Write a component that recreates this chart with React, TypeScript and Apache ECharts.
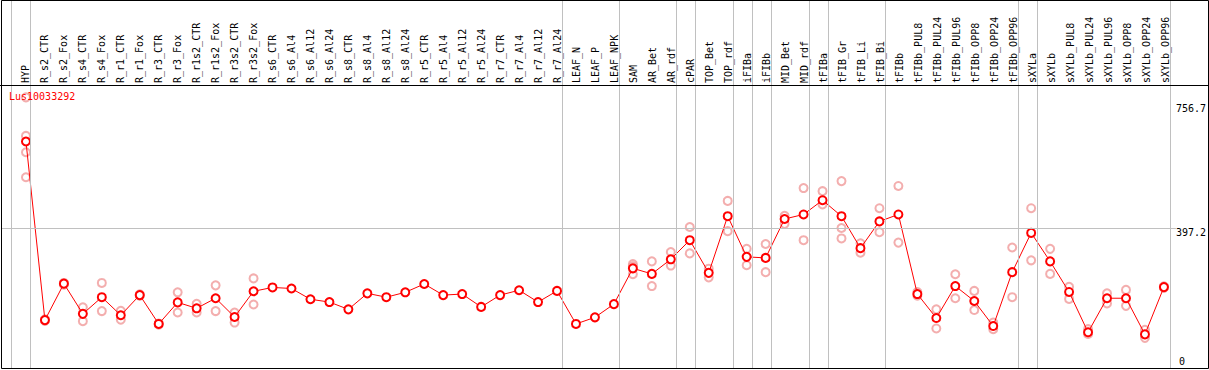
import React, { useEffect, useRef } from "react";
import * as echarts from "echarts";

const TITLE = "Lus10033292";

const categories = [
  "HYP", "R_s2_CTR", "R_s2_Fox", "R_s4_CTR", "R_s4_Fox", "R_r1_CTR", "R_r1_Fox",
  "R_r3_CTR", "R_r3_Fox", "R_r1s2_CTR", "R_r1s2_Fox", "R_r3s2_CTR", "R_r3s2_Fox",
  "R_s6_CTR", "R_s6_Al4", "R_s6_Al12", "R_s6_Al24", "R_s8_CTR", "R_s8_Al4",
  "R_s8_Al12", "R_s8_Al24", "R_r5_CTR", "R_r5_Al4", "R_r5_Al12", "R_r5_Al24",
  "R_r7_CTR", "R_r7_Al4", "R_r7_Al12", "R_r7_Al24", "LEAF_N", "LEAF_P", "LEAF_NPK",
  "SAM", "AR_Bet", "AR_rdf", "cPAR", "TOP_Bet", "TOP_rdf", "iFIBa", "iFIBb",
  "MID_Bet", "MID_rdf", "tFIBa", "tFIB_Gr", "tFIB_Li", "tFIB_Bi", "tFIBb",
  "tFIBb_PUL8", "tFIBb_PUL24", "tFIBb_PUL96", "tFIBb_OPP8", "tFIBb_OPP24", "tFIBb_OPP96",
  "sXYLa", "sXYLb", "sXYLb_PUL8", "sXYLb_PUL24", "sXYLb_PUL96", "sXYLb_OPP8",
  "sXYLb_OPP24", "sXYLb_OPP96",
];

const means = [
  646, 132, 237, 150, 198, 146, 204, 121, 183, 166, 195, 141, 215,
  226, 223, 192, 184, 163, 209, 198, 212, 236, 204, 207, 170, 204, 218, 184, 216,
  121, 140, 178,
  281, 265, 307, 362, 268, 431, 314, 311, 423, 436, 477, 431, 339, 416, 436,
  207, 138, 230, 187, 115, 270,
  383, 301, 213, 97, 195, 195, 91, 227,
];

const replicates: number[][] = [
  [773, 662, 615, 543],
  [134, 130],
  [239, 234],
  [169, 129],
  [239, 158],
  [159, 133],
  [206, 202],
  [122, 119],
  [212, 154],
  [179, 154],
  [232, 158],
  [154, 125],
  [252, 177],
  [], [], [], [], [], [], [], [], [], [], [], [], [], [], [], [], [], [], [],
  [293, 287, 264],
  [301, 230],
  [328, 289],
  [400, 324],
  [280, 255],
  [475, 388],
  [337, 290],
  [351, 270],
  [432, 409],
  [512, 362],
  [503, 465],
  [532, 397, 367],
  [353, 326],
  [454, 385],
  [518, 355],
  [213, 202],
  [163, 108],
  [264, 195],
  [216, 161],
  [125, 106],
  [341, 198],
  [454, 304],
  [337, 265],
  [228, 193],
  [106, 92],
  [209, 180],
  [219, 173],
  [104, 81],
  [229, 225],
];

// index of the last category in each group (separator drawn after it)
const groupEnds = [-1, 0, 28, 31, 34, 35, 37, 38, 39, 41, 42, 45, 52, 53, 60];

const Y_MAX = 756.7;
const Y_MID = 397.2;

const FONT = "DejaVu Sans Mono";
const W = 1209;
const H = 370;
const PX0 = 26; // pixel centre of first category
const STEP = 19; // pixel step between categories
const PLOT_L = 1;
const PLOT_R = 1178;
const X_MIN = (PLOT_L - PX0) / STEP;
const X_MAX = (PLOT_R - PX0) / STEP;
const SEP_OFFSET = 4.5 / STEP;
const GRID_COLOR = "#c0c0c0";

export default function App() {
  const ref = useRef<HTMLDivElement>(null);

  useEffect(() => {
    if (!ref.current) return;
    const chart = echarts.init(ref.current, null, { renderer: "svg" });

    const meanData = means.map((v, i) => [i, v]);
    const repData: number[][] = [];
    replicates.forEach((arr, i) => arr.forEach((v) => repData.push([i, v])));

    const labelStyle = { fontFamily: FONT, fontSize: 10, color: "#000" };

    chart.setOption({
      animation: false,
      backgroundColor: "#fff",
      title: {
        text: TITLE,
        left: 9,
        top: 91,
        padding: 0,
        textStyle: { color: "#ff0000", fontSize: 10, fontWeight: "normal", fontFamily: FONT },
      },
      grid: [
        { left: PLOT_L, right: W - PLOT_R, top: 103, bottom: H - 366 },
        { left: PLOT_L, right: W - PLOT_R, top: 0, bottom: H - 368 },
        { left: PX0 - STEP / 2 - 1, right: W - (PX0 + STEP * (categories.length - 0.5)) + 1, top: 0, height: 85 },
        { left: PLOT_L, right: W - PLOT_R, top: 103, bottom: H - 366 },
      ],
      xAxis: [
        { type: "value", gridIndex: 0, min: X_MIN, max: X_MAX, show: false },
        { type: "value", gridIndex: 1, min: X_MIN, max: X_MAX, show: false },
        {
          type: "category",
          gridIndex: 2,
          data: categories,
          position: "bottom",
          axisLine: { show: false },
          axisTick: { show: false },
          axisLabel: { interval: 0, rotate: 90, inside: true, margin: 2, ...labelStyle },
        },
        { type: "value", gridIndex: 3, min: X_MIN, max: X_MAX, show: false },
      ],
      yAxis: [
        {
          type: "value",
          gridIndex: 0,
          position: "right",
          min: 0,
          max: Y_MAX,
          interval: Y_MID,
          axisLine: { show: false },
          axisTick: { show: false },
          splitLine: { show: false },
          axisLabel: {
            margin: 0,
            verticalAlign: "top",
            showMinLabel: true,
            showMaxLabel: true,
            formatter: (v: number) => (v === 0 ? "" : Number(v).toFixed(1)),
            ...labelStyle,
          },
        },
        { type: "value", gridIndex: 1, min: 0, max: 1, show: false },
        { type: "value", gridIndex: 2, min: 0, max: 1, show: false },
        {
          type: "value",
          gridIndex: 3,
          position: "right",
          min: 0,
          max: Y_MAX,
          interval: Y_MAX,
          axisLine: { show: false },
          axisTick: { show: false },
          splitLine: { show: false },
          axisLabel: {
            margin: 1,
            verticalAlign: "bottom",
            formatter: (v: number) => (v === 0 ? "0" : ""),
            ...labelStyle,
          },
        },
      ],
      series: [
        {
          type: "line",
          xAxisIndex: 1,
          yAxisIndex: 1,
          data: [[0, -5]],
          symbol: "none",
          lineStyle: { opacity: 0 },
          silent: true,
          markLine: {
            silent: true,
            symbol: ["none", "none"],
            label: { show: false },
            lineStyle: { color: GRID_COLOR, width: 1, type: "solid" },
            emphasis: { disabled: true },
            data: groupEnds.map((k) => ({ xAxis: k + SEP_OFFSET })),
          },
        },
        {
          type: "scatter",
          xAxisIndex: 0,
          yAxisIndex: 0,
          data: repData,
          clip: false,
          symbol: "emptyCircle",
          symbolSize: 8,
          itemStyle: { color: "#f09a9a", borderWidth: 1 },
          z: 3,
        },
        {
          type: "line",
          xAxisIndex: 0,
          yAxisIndex: 0,
          data: meanData,
          symbol: "emptyCircle",
          symbolSize: 8,
          showAllSymbol: true,
          lineStyle: { color: "#ff0000", width: 1 },
          itemStyle: { color: "#ff0000", borderWidth: 1.2 },
          z: 4,
          markLine: {
            silent: true,
            symbol: ["none", "none"],
            label: { show: false },
            lineStyle: { color: GRID_COLOR, width: 1, type: "solid" },
            emphasis: { disabled: true },
            data: [{ yAxis: Y_MID }],
          },
        },
      ],
      graphic: [
        {
          type: "rect",
          shape: { x: 1.5, y: 0.5, width: 1207, height: 368 },
          style: { fill: "none", stroke: "#000", lineWidth: 1 },
          silent: true,
          z: 100,
        },
        {
          type: "line",
          shape: { x1: 0, y1: 85.5, x2: W, y2: 85.5 },
          style: { stroke: "#000", lineWidth: 1 },
          silent: true,
          z: 100,
        },
      ],
    });

    return () => chart.dispose();
  }, []);

  return (
    <div
      ref={ref}
      style={{ position: "absolute", left: 0, top: 0, width: W, height: H, background: "#fff" }}
    />
  );
}
